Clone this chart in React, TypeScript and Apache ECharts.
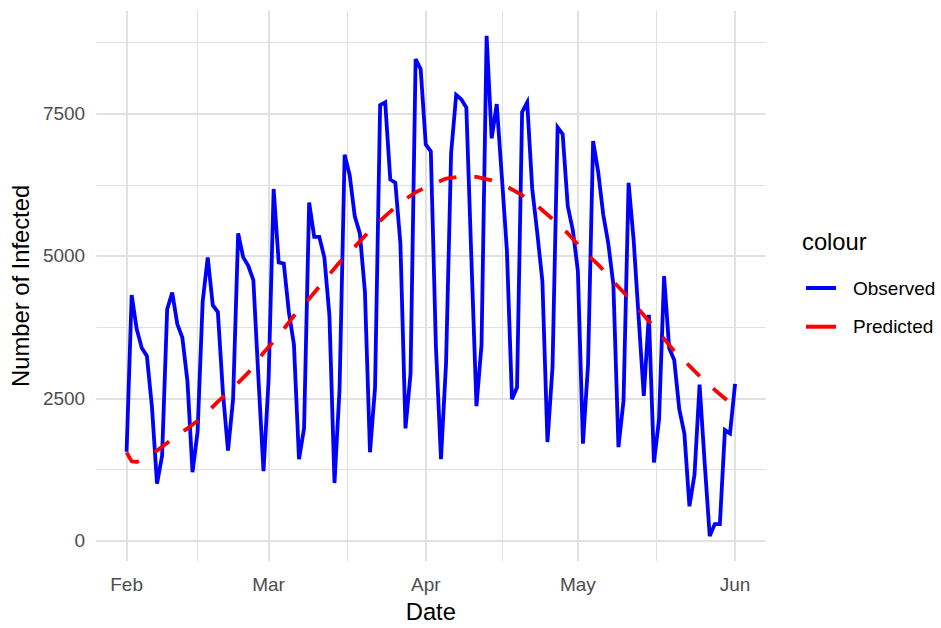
import React, { useEffect, useRef } from "react";
import * as echarts from "echarts";

// ---------- data ----------
const startDate = "2021-02-01";
const observed = [
  1560, 4315, 3714, 3384, 3245, 2350, 1000, 1490, 4063, 4357,
  3804, 3564, 2800, 1200, 1911, 4195, 4976, 4135, 4015, 2600,
  1581, 2482, 5397, 4976, 4826, 4574, 2850, 1220, 2813, 6178,
  4886, 4868, 4015, 3444, 1430, 1971, 5938, 5337, 5337, 4976,
  3955, 1010, 2662, 6779, 6419, 5697, 5397, 4375, 1551, 2692,
  7651, 7699, 6347, 6287, 5217, 1971, 2933, 8462, 8282, 6960,
  6839, 3414, 1430, 3113, 6809, 7831, 7753, 7609, 4950, 2362,
  3444, 8871, 7068, 7669, 6400, 5100, 2482, 2692, 7531, 7699,
  6178, 5397, 4556, 1731, 3053, 7260, 7140, 5878, 5457, 4736,
  1701, 3083, 7020, 6479, 5728, 5217, 4495, 1641, 2452, 6286,
  5277, 3894, 2542, 3967, 1370, 2122, 4646, 3384, 3173, 2302,
  1881, 601, 1160, 2741, 1370, 78, 288, 288, 1941, 1881,
  2753,
];
const predictedDays = [
  0, 1, 2, 4, 6, 9, 12, 15, 18, 21, 24, 27, 30, 33, 36, 39, 42, 45, 48, 51,
  54, 57, 60, 63, 66, 69, 72, 75, 78, 81, 84, 87, 90, 93, 96, 99, 102, 105,
  108, 111, 114, 117, 120,
];
const predictedValues = [
  1550, 1390, 1380, 1460, 1580, 1780, 1970, 2170, 2440, 2680, 2950, 3300,
  3600, 3950, 4250, 4570, 4890, 5160, 5450, 5700, 5940, 6120, 6250, 6360,
  6400, 6390, 6330, 6220, 6070, 5880, 5650, 5400, 5100, 4850, 4550, 4270,
  3960, 3650, 3330, 3070, 2800, 2570, 2350,
];
const monthBreaks = ["2021-02-01", "2021-03-01", "2021-04-01", "2021-05-01", "2021-06-01"];
const monthNames = ["Jan", "Feb", "Mar", "Apr", "May", "Jun", "Jul", "Aug", "Sep", "Oct", "Nov", "Dec"];
const yMajor = [0, 2500, 5000, 7500];
const yMinor = [1250, 3750, 6250, 8750];
const xLimits = ["2021-01-26", "2021-06-07"];
const yLimits = [-362, 9311];

// ---------- helpers ----------
const DAY = 86400000;
const FONT = "'Liberation Sans', Arial, Helvetica, sans-serif";
const startTs = Date.parse(startDate);
const toDay = (s: string) => (Date.parse(s) - startTs) / DAY;
const monthDays = monthBreaks.map(toDay);
const minorXDays = monthDays.slice(1).map((t, i) => (t + monthDays[i]) / 2);
const dayLabel = (d: number) => monthNames[new Date(startTs + Math.round(d) * DAY).getUTCMonth()];

export default function App() {
  const ref = useRef<HTMLDivElement>(null);

  useEffect(() => {
    if (!ref.current) return;
    const chart = echarts.init(ref.current, null, { renderer: "svg" });

    const majorStyle = { color: "#e1e1e1", width: 2, type: "solid" as const };
    const minorStyle = { color: "#e1e1e1", width: 1, type: "solid" as const };

    const gridData: any[] = [
      ...yMinor.map((v) => ({ yAxis: v, lineStyle: minorStyle })),
      ...minorXDays.map((v) => ({ xAxis: v, lineStyle: minorStyle })),
      ...yMajor.map((v) => ({ yAxis: v, lineStyle: majorStyle })),
      ...monthDays.map((v) => ({ xAxis: v, lineStyle: majorStyle })),
    ];

    chart.setOption({
      animation: false,
      textStyle: { fontFamily: FONT },
      grid: { left: 95.5, right: 175.5, top: 10.7, bottom: 64, containLabel: false },
      title: {
        text: "colour",
        left: 802,
        top: 229,
        padding: 0,
        textStyle: { fontSize: 23.75, fontWeight: "normal", color: "#000", fontFamily: FONT },
      },
      legend: {
        data: ["Observed", "Predicted"],
        orient: "vertical",
        left: 806,
        top: 278,
        padding: 0,
        icon: "rect",
        itemWidth: 30,
        itemHeight: 4,
        itemGap: 18.7,
        textStyle: {
          fontSize: 19,
          color: "#000",
          fontFamily: FONT,
          lineHeight: 20,
          padding: [0, 0, 0, 12],
        },
      },
      xAxis: {
        type: "value",
        min: toDay(xLimits[0]),
        max: toDay(xLimits[1]),
        axisLine: { show: false },
        axisTick: { show: false },
        splitLine: { show: false },
        axisLabel: {
          customValues: monthDays,
          formatter: (v: number) => dayLabel(v),
          fontSize: 19,
          color: "#4d4d4d",
          margin: 14,
          fontFamily: FONT,
          hideOverlap: false,
        },
        name: "Date",
        nameLocation: "middle",
        nameGap: 37,
        nameTextStyle: { fontSize: 23.75, color: "#000", fontFamily: FONT },
      },
      yAxis: {
        type: "value",
        min: yLimits[0],
        max: yLimits[1],
        axisLine: { show: false },
        axisTick: { show: false },
        splitLine: { show: false },
        axisLabel: {
          customValues: yMajor,
          formatter: (v: number) => String(v),
          fontSize: 19,
          color: "#4d4d4d",
          margin: 11,
          fontFamily: FONT,
        },
        name: "Number of Infected",
        nameLocation: "middle",
        nameGap: 56,
        nameTextStyle: { fontSize: 23.75, color: "#000", fontFamily: FONT },
      },
      series: [
        {
          name: "gridlines",
          type: "line",
          data: [],
          silent: true,
          z: 1,
          markLine: {
            silent: true,
            z: 1,
            symbol: ["none", "none"],
            label: { show: false },
            emphasis: { disabled: true },
            animation: false,
            data: gridData,
          },
        },
        {
          name: "Observed",
          type: "line",
          z: 3,
          showSymbol: false,
          data: observed.map((v, i) => [i, v]),
          lineStyle: { color: "#0000ff", width: 3.8, cap: "butt", join: "miter" },
          itemStyle: { color: "#0000ff" },
        },
        {
          name: "Predicted",
          type: "line",
          z: 4,
          showSymbol: false,
          data: predictedDays.map((d, i) => [d, predictedValues[i]]),
          lineStyle: { color: "#ff0000", width: 3.8, type: [18, 18], cap: "butt" },
          itemStyle: { color: "#ff0000" },
        },
      ],
    });

    return () => chart.dispose();
  }, []);

  return (
    <div
      ref={ref}
      style={{ position: "fixed", left: 0, top: 0, width: 941, height: 628, background: "#fff" }}
    />
  );
}
